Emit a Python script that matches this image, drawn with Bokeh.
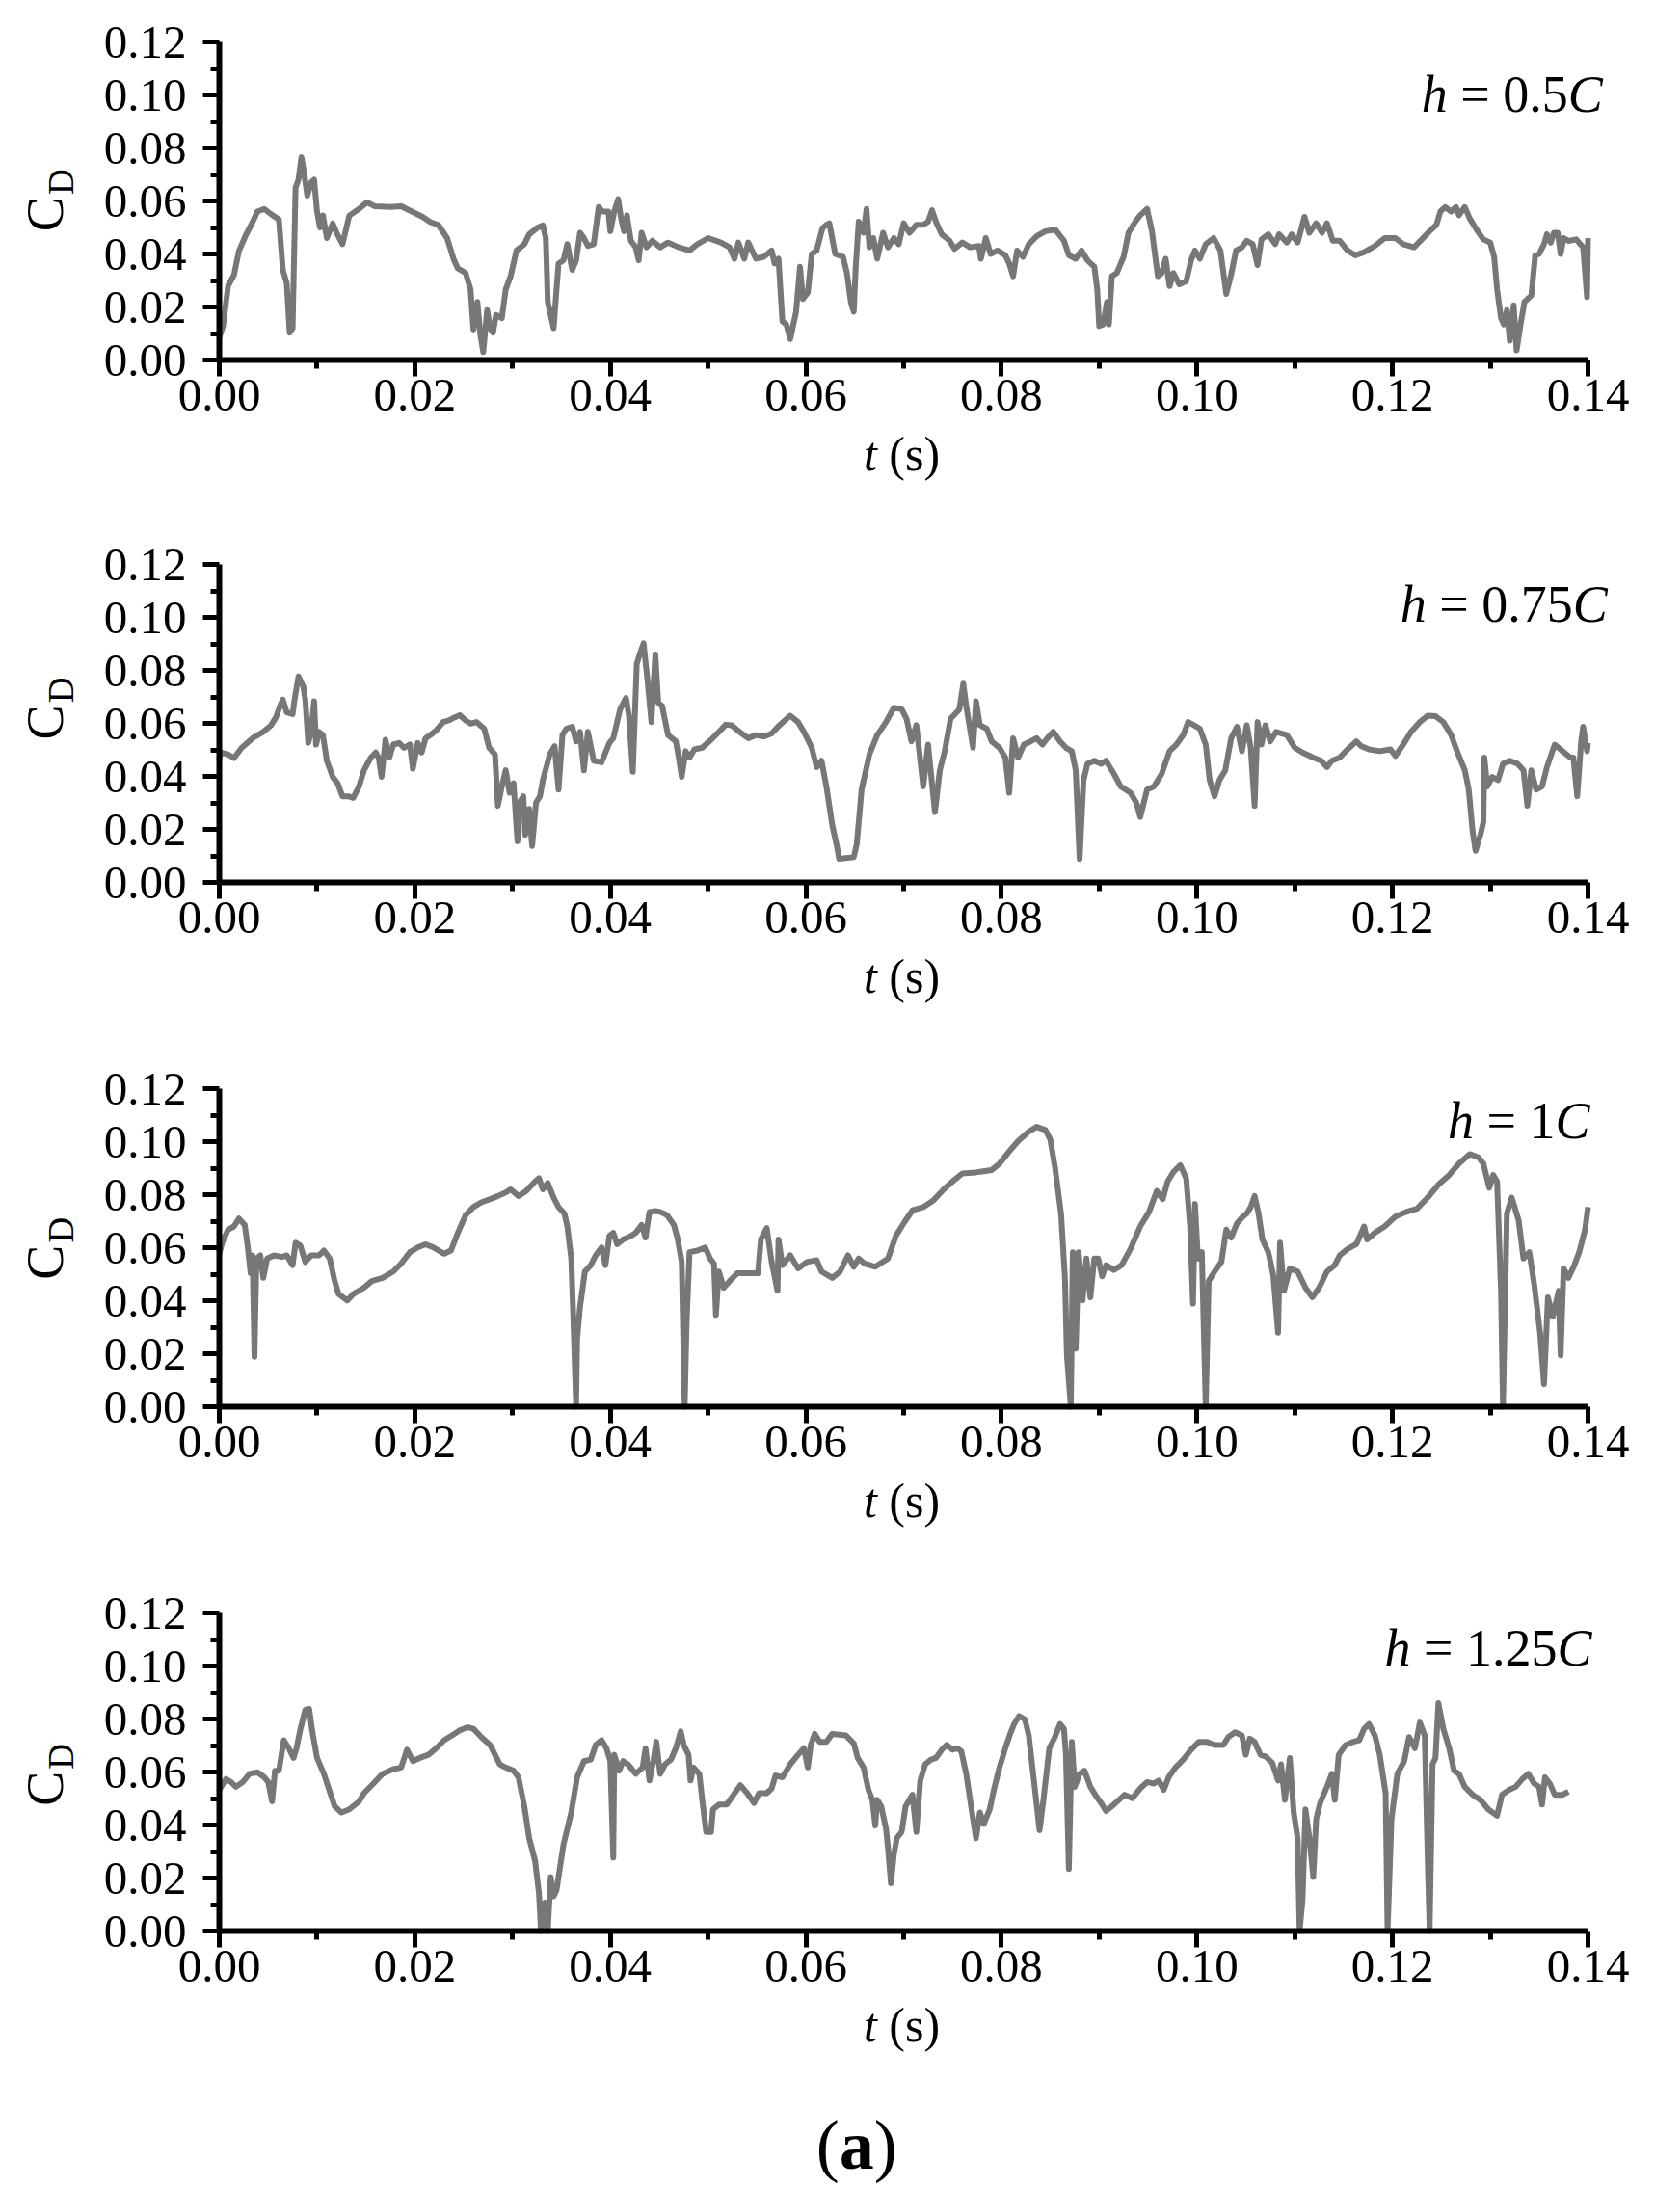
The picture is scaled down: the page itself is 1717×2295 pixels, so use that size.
from bokeh.plotting import figure
from bokeh.layouts import column
from bokeh.models import FixedTicker, PrintfTickFormatter, Label, Range1d
from bokeh.embed import file_html
from bokeh.resources import INLINE
import math

# ---------------- data ----------------
t1 = [0.0, 0.0004, 0.0009, 0.0015, 0.002, 0.0027, 0.0034, 0.0039, 0.0046, 0.0053, 0.0061, 0.0065, 0.0069, 0.0072, 0.0075, 0.0076, 0.0078, 0.0081, 0.0084, 0.0087, 0.009, 0.0094, 0.0097, 0.010, 0.0103, 0.0106, 0.011, 0.0116, 0.012, 0.0126, 0.0133, 0.0143, 0.0151, 0.0159, 0.0175, 0.0186, 0.0197, 0.0208, 0.0216, 0.0224, 0.0233, 0.024, 0.0244, 0.0252, 0.0257, 0.026, 0.0264, 0.0267, 0.027, 0.0274, 0.0277, 0.028, 0.0283, 0.0289, 0.0293, 0.0298, 0.0304, 0.0312, 0.0317, 0.0325, 0.0331, 0.0334, 0.0336, 0.0342, 0.0344, 0.0347, 0.0352, 0.0356, 0.0361, 0.0365, 0.0369, 0.0373, 0.0377, 0.0383, 0.0388, 0.0392, 0.0398, 0.04, 0.0404, 0.0408, 0.0411, 0.0414, 0.0417, 0.0421, 0.0426, 0.0429, 0.0432, 0.0437, 0.0443, 0.0451, 0.0459, 0.047, 0.0481, 0.0489, 0.05, 0.0513, 0.0522, 0.0527, 0.0531, 0.0537, 0.0541, 0.0549, 0.0557, 0.0565, 0.0568, 0.0572, 0.0576, 0.058, 0.0584, 0.059, 0.0594, 0.0597, 0.0602, 0.0606, 0.0611, 0.0617, 0.0621, 0.0624, 0.063, 0.0638, 0.0642, 0.0646, 0.0649, 0.0651, 0.0654, 0.0659, 0.0662, 0.0665, 0.0669, 0.0673, 0.0679, 0.0684, 0.069, 0.0695, 0.07, 0.0706, 0.0713, 0.072, 0.0725, 0.0729, 0.0733, 0.0739, 0.0747, 0.0752, 0.076, 0.0768, 0.0777, 0.0779, 0.0784, 0.0789, 0.0796, 0.0804, 0.0808, 0.0812, 0.0816, 0.0822, 0.0828, 0.0836, 0.0845, 0.0855, 0.0864, 0.0869, 0.0876, 0.0882, 0.0888, 0.0895, 0.0898, 0.09, 0.0904, 0.0908, 0.091, 0.0913, 0.0918, 0.0925, 0.093, 0.0937, 0.0942, 0.0949, 0.0954, 0.096, 0.0964, 0.0968, 0.0972, 0.0976, 0.0982, 0.0989, 0.0994, 0.0998, 0.1003, 0.1009, 0.1017, 0.1024, 0.103, 0.1035, 0.104, 0.1046, 0.1051, 0.1057, 0.1062, 0.1066, 0.1073, 0.108, 0.1084, 0.1092, 0.1097, 0.1103, 0.111, 0.1115, 0.1122, 0.1128, 0.1133, 0.1139, 0.1146, 0.1154, 0.1162, 0.1171, 0.1182, 0.1192, 0.1203, 0.1211, 0.1222, 0.123, 0.1238, 0.1245, 0.1249, 0.1254, 0.126, 0.1265, 0.1268, 0.1274, 0.1279, 0.1286, 0.1293, 0.13, 0.1304, 0.1307, 0.1311, 0.1314, 0.1317, 0.132, 0.1324, 0.1327, 0.1331, 0.1335, 0.1342, 0.1346, 0.135, 0.1355, 0.1358, 0.1362, 0.1365, 0.1369, 0.1372, 0.1375, 0.138, 0.1388, 0.1395, 0.1399, 0.14]
cd1 = [0.0085, 0.013, 0.028, 0.032, 0.041, 0.047, 0.052, 0.056, 0.057, 0.055, 0.053, 0.034, 0.029, 0.0103, 0.012, 0.030, 0.065, 0.068, 0.0765, 0.070, 0.062, 0.067, 0.068, 0.056, 0.050, 0.0545, 0.046, 0.0515, 0.048, 0.0437, 0.0545, 0.057, 0.0595, 0.058, 0.0577, 0.058, 0.056, 0.054, 0.052, 0.051, 0.046, 0.0377, 0.0346, 0.0328, 0.0267, 0.0115, 0.0219, 0.0097, 0.003, 0.0188, 0.012, 0.0103, 0.017, 0.0158, 0.0267, 0.0316, 0.0413, 0.0437, 0.0474, 0.0498, 0.0508, 0.046, 0.0219, 0.012, 0.022, 0.0364, 0.0376, 0.0437, 0.034, 0.0376, 0.048, 0.046, 0.043, 0.0437, 0.0577, 0.056, 0.056, 0.0486, 0.056, 0.0607, 0.0534, 0.0486, 0.0546, 0.045, 0.0425, 0.0376, 0.048, 0.0425, 0.045, 0.0425, 0.0443, 0.0425, 0.0413, 0.0437, 0.046, 0.0443, 0.0425, 0.0382, 0.0443, 0.0382, 0.0443, 0.0382, 0.0389, 0.0413, 0.0364, 0.0382, 0.0146, 0.0134, 0.0079, 0.0182, 0.0352, 0.023, 0.0255, 0.040, 0.0413, 0.0498, 0.051, 0.0516, 0.040, 0.0389, 0.0328, 0.0219, 0.0182, 0.0352, 0.0522, 0.048, 0.057, 0.0425, 0.046, 0.0382, 0.048, 0.0425, 0.046, 0.0437, 0.0516, 0.048, 0.051, 0.051, 0.0522, 0.0565, 0.0522, 0.0474, 0.045, 0.0419, 0.0443, 0.0425, 0.043, 0.0382, 0.046, 0.040, 0.0413, 0.0395, 0.0364, 0.0316, 0.0413, 0.0389, 0.0437, 0.0467, 0.0486, 0.0492, 0.045, 0.0395, 0.0382, 0.0413, 0.0376, 0.0352, 0.0267, 0.0128, 0.0134, 0.0219, 0.0134, 0.0316, 0.0328, 0.0389, 0.048, 0.0522, 0.0546, 0.057, 0.0486, 0.0316, 0.0328, 0.0382, 0.0279, 0.0328, 0.0285, 0.0297, 0.0376, 0.0413, 0.0382, 0.0437, 0.046, 0.0413, 0.0249, 0.0322, 0.0413, 0.0425, 0.045, 0.0437, 0.0358, 0.0455, 0.0474, 0.0437, 0.0474, 0.0443, 0.0474, 0.0443, 0.054, 0.048, 0.0516, 0.048, 0.0516, 0.045, 0.045, 0.0413, 0.0395, 0.0407, 0.043, 0.046, 0.046, 0.0437, 0.0425, 0.0455, 0.0486, 0.051, 0.056, 0.0577, 0.056, 0.0577, 0.0546, 0.0577, 0.0534, 0.0492, 0.0455, 0.0443, 0.0389, 0.0267, 0.0158, 0.0134, 0.0188, 0.0073, 0.0206, 0.0036, 0.0134, 0.0219, 0.0243, 0.0395, 0.040, 0.0437, 0.0474, 0.0443, 0.048, 0.048, 0.040, 0.046, 0.0449, 0.0455, 0.0425, 0.0237, 0.046]

t2 = [0.0, 0.0001, 0.0009, 0.0015, 0.0023, 0.0034, 0.0045, 0.0053, 0.0058, 0.0062, 0.0065, 0.0069, 0.0075, 0.0077, 0.0081, 0.0086, 0.0088, 0.0091, 0.0094, 0.0097, 0.0099, 0.0102, 0.0106, 0.011, 0.0116, 0.0121, 0.0126, 0.0132, 0.0137, 0.0143, 0.0148, 0.0155, 0.016, 0.0163, 0.0166, 0.017, 0.0174, 0.0178, 0.0184, 0.0189, 0.0195, 0.0198, 0.0203, 0.0207, 0.0211, 0.0216, 0.0222, 0.0229, 0.0235, 0.0241, 0.0246, 0.0252, 0.0257, 0.0263, 0.0271, 0.0276, 0.0282, 0.0285, 0.0289, 0.0293, 0.0297, 0.0301, 0.0305, 0.0307, 0.0311, 0.0313, 0.0317, 0.032, 0.0324, 0.0328, 0.0331, 0.0338, 0.0343, 0.0347, 0.0351, 0.0355, 0.0361, 0.0365, 0.0369, 0.0373, 0.0377, 0.0383, 0.0391, 0.0399, 0.0403, 0.041, 0.0416, 0.0419, 0.0423, 0.0427, 0.043, 0.0434, 0.0438, 0.0442, 0.0446, 0.0449, 0.0453, 0.0459, 0.0467, 0.047, 0.0473, 0.0477, 0.0481, 0.0486, 0.0494, 0.0503, 0.0511, 0.0518, 0.0524, 0.0532, 0.0541, 0.0549, 0.0557, 0.0565, 0.0573, 0.0584, 0.0592, 0.0598, 0.0606, 0.0611, 0.0616, 0.0621, 0.0627, 0.0632, 0.0634, 0.0649, 0.0652, 0.0657, 0.0665, 0.0673, 0.0682, 0.069, 0.0698, 0.0703, 0.0708, 0.0713, 0.072, 0.0725, 0.0732, 0.0737, 0.0742, 0.0748, 0.0757, 0.0761, 0.0764, 0.0771, 0.0774, 0.0778, 0.0785, 0.079, 0.0798, 0.0804, 0.0808, 0.0812, 0.0817, 0.0823, 0.083, 0.0836, 0.0842, 0.0847, 0.0853, 0.086, 0.0866, 0.0872, 0.0876, 0.088, 0.0884, 0.0888, 0.0895, 0.0902, 0.0907, 0.0915, 0.0922, 0.0932, 0.0938, 0.0942, 0.0949, 0.0956, 0.0964, 0.0972, 0.0979, 0.0986, 0.0991, 0.0997, 0.1003, 0.1009, 0.1013, 0.1018, 0.1023, 0.1029, 0.1035, 0.1041, 0.1046, 0.1051, 0.1055, 0.1059, 0.1062, 0.1066, 0.107, 0.1075, 0.1081, 0.1092, 0.11, 0.1108, 0.1119, 0.1127, 0.1133, 0.1138, 0.1146, 0.1154, 0.1163, 0.1168, 0.1176, 0.1187, 0.1198, 0.1203, 0.1211, 0.1219, 0.1228, 0.1236, 0.1244, 0.1252, 0.126, 0.1266, 0.1274, 0.1278, 0.1282, 0.1285, 0.129, 0.1293, 0.1294, 0.1297, 0.1302, 0.1308, 0.1313, 0.132, 0.1328, 0.1334, 0.1338, 0.1342, 0.1347, 0.1353, 0.1358, 0.1366, 0.1374, 0.1382, 0.1385, 0.1389, 0.1393, 0.1395, 0.1399, 0.14]
cd2 = [0.0459, 0.049, 0.0483, 0.0469, 0.0508, 0.0544, 0.0568, 0.0593, 0.0623, 0.0665, 0.069, 0.0641, 0.0635, 0.069, 0.0777, 0.0738, 0.069, 0.0526, 0.0568, 0.0684, 0.052, 0.0568, 0.0556, 0.0459, 0.0398, 0.0374, 0.0325, 0.0325, 0.0319, 0.0362, 0.0423, 0.0471, 0.049, 0.0471, 0.0398, 0.0538, 0.0471, 0.052, 0.0526, 0.0508, 0.052, 0.0429, 0.0526, 0.049, 0.0544, 0.0556, 0.0574, 0.0605, 0.0611, 0.0623, 0.0631, 0.0611, 0.0599, 0.0605, 0.058, 0.0508, 0.0483, 0.0289, 0.0362, 0.0423, 0.0338, 0.0374, 0.0155, 0.0301, 0.0325, 0.018, 0.0277, 0.0137, 0.0301, 0.0325, 0.0386, 0.0483, 0.0514, 0.035, 0.0556, 0.058, 0.0587, 0.0532, 0.0568, 0.0423, 0.0568, 0.0459, 0.0453, 0.0526, 0.0544, 0.0653, 0.0696, 0.0629, 0.0417, 0.0823, 0.086, 0.0902, 0.0763, 0.0605, 0.086, 0.0678, 0.0665, 0.0556, 0.0532, 0.0471, 0.0398, 0.0495, 0.0471, 0.0502, 0.0508, 0.0538, 0.0568, 0.0595, 0.0593, 0.0568, 0.0544, 0.0556, 0.055, 0.0562, 0.0593, 0.0629, 0.0605, 0.0568, 0.0508, 0.0435, 0.0459, 0.0362, 0.0216, 0.0131, 0.0089, 0.0095, 0.0143, 0.035, 0.0483, 0.0556, 0.0605, 0.0659, 0.0653, 0.0617, 0.0532, 0.0593, 0.0362, 0.052, 0.0265, 0.0423, 0.0495, 0.0617, 0.0653, 0.075, 0.0665, 0.0508, 0.0684, 0.0593, 0.058, 0.0532, 0.0508, 0.0471, 0.0338, 0.0544, 0.0471, 0.052, 0.0532, 0.0544, 0.052, 0.0544, 0.0568, 0.0532, 0.0508, 0.0495, 0.0423, 0.0089, 0.0386, 0.0447, 0.0459, 0.0447, 0.0459, 0.041, 0.0362, 0.0338, 0.0301, 0.0247, 0.035, 0.0362, 0.041, 0.0495, 0.052, 0.0556, 0.0605, 0.0593, 0.058, 0.052, 0.0386, 0.0325, 0.0386, 0.0423, 0.0544, 0.0587, 0.0495, 0.0593, 0.0508, 0.0289, 0.0605, 0.052, 0.0593, 0.0532, 0.0568, 0.0556, 0.0508, 0.049, 0.0471, 0.0459, 0.0435, 0.0459, 0.0471, 0.0502, 0.0532, 0.0514, 0.0502, 0.0495, 0.0502, 0.0477, 0.052, 0.0568, 0.0605, 0.0629, 0.0627, 0.0605, 0.0556, 0.0495, 0.0423, 0.035, 0.0192, 0.0119, 0.018, 0.0228, 0.0471, 0.0362, 0.0398, 0.0386, 0.0447, 0.0459, 0.0447, 0.0423, 0.0289, 0.0423, 0.035, 0.0362, 0.0435, 0.052, 0.0495, 0.0471, 0.0471, 0.0325, 0.0532, 0.0587, 0.0495, 0.0526]

t3 = [0.0, 0.0003, 0.0009, 0.0015, 0.002, 0.0026, 0.0029, 0.0032, 0.0034, 0.0036, 0.0038, 0.0042, 0.0045, 0.0049, 0.0056, 0.0064, 0.0069, 0.0075, 0.0078, 0.0083, 0.0088, 0.0094, 0.0102, 0.0107, 0.0113, 0.0118, 0.0122, 0.0131, 0.0137, 0.0148, 0.0156, 0.0167, 0.0178, 0.0186, 0.0195, 0.0203, 0.0211, 0.0219, 0.023, 0.0237, 0.0244, 0.0252, 0.026, 0.0268, 0.0277, 0.0285, 0.0293, 0.0298, 0.0306, 0.0314, 0.0323, 0.0327, 0.0331, 0.0336, 0.0342, 0.0347, 0.0353, 0.0356, 0.036, 0.0362, 0.0365, 0.0366, 0.0369, 0.0374, 0.038, 0.0385, 0.0391, 0.0395, 0.0399, 0.0403, 0.0407, 0.0413, 0.0421, 0.0426, 0.0432, 0.0436, 0.044, 0.0446, 0.0451, 0.0458, 0.0465, 0.0469, 0.0473, 0.0476, 0.0478, 0.0481, 0.0489, 0.0497, 0.0502, 0.0506, 0.0508, 0.0511, 0.0516, 0.0522, 0.053, 0.0541, 0.0551, 0.0554, 0.056, 0.0565, 0.0571, 0.0572, 0.0576, 0.0584, 0.0592, 0.0601, 0.0611, 0.0616, 0.0627, 0.0635, 0.0643, 0.0649, 0.0654, 0.066, 0.0671, 0.0684, 0.0692, 0.07, 0.0709, 0.072, 0.073, 0.0741, 0.0752, 0.076, 0.0774, 0.079, 0.0798, 0.0807, 0.0817, 0.0828, 0.0836, 0.0845, 0.085, 0.0855, 0.0861, 0.0865, 0.0867, 0.0871, 0.0873, 0.0876, 0.0879, 0.0883, 0.0887, 0.0891, 0.0895, 0.0899, 0.0903, 0.0907, 0.0915, 0.0923, 0.0932, 0.0942, 0.0951, 0.0959, 0.0965, 0.097, 0.0976, 0.0983, 0.0989, 0.0993, 0.0996, 0.0998, 0.1001, 0.1005, 0.1009, 0.1012, 0.1018, 0.1025, 0.103, 0.1035, 0.1041, 0.1047, 0.1051, 0.1055, 0.1059, 0.1063, 0.1067, 0.1073, 0.1078, 0.1083, 0.1085, 0.1089, 0.1095, 0.1103, 0.1111, 0.1118, 0.1125, 0.1133, 0.1141, 0.1146, 0.1154, 0.1163, 0.1171, 0.1174, 0.1182, 0.1192, 0.1203, 0.1214, 0.1225, 0.1236, 0.1247, 0.1258, 0.1268, 0.1279, 0.1288, 0.1293, 0.1299, 0.1303, 0.1307, 0.1311, 0.1313, 0.1317, 0.1322, 0.1329, 0.1334, 0.134, 0.1345, 0.1351, 0.1355, 0.1359, 0.1364, 0.137, 0.1372, 0.1375, 0.138, 0.1386, 0.1391, 0.1397, 0.14]
cd3 = [0.0577, 0.0619, 0.0668, 0.068, 0.071, 0.0686, 0.0607, 0.0504, 0.0571, 0.0188, 0.0559, 0.0571, 0.0486, 0.0559, 0.0571, 0.0565, 0.0571, 0.0534, 0.0619, 0.0607, 0.0546, 0.0571, 0.0571, 0.0589, 0.0559, 0.0474, 0.0425, 0.0401, 0.0425, 0.0449, 0.0474, 0.0486, 0.051, 0.054, 0.0583, 0.0601, 0.0613, 0.0601, 0.0577, 0.0589, 0.0656, 0.0723, 0.0753, 0.0771, 0.0783, 0.0795, 0.0808, 0.082, 0.0795, 0.0814, 0.085, 0.0862, 0.082, 0.0844, 0.0789, 0.0753, 0.0729, 0.068, 0.0559, 0.0352, 0.0, 0.0255, 0.0376, 0.051, 0.0534, 0.0571, 0.0601, 0.0534, 0.0644, 0.0656, 0.0613, 0.0631, 0.0644, 0.0656, 0.0686, 0.0638, 0.0735, 0.0738, 0.0735, 0.0723, 0.0686, 0.0631, 0.0546, 0.0, 0.0316, 0.0583, 0.0589, 0.0601, 0.0559, 0.054, 0.0346, 0.051, 0.0449, 0.0474, 0.0504, 0.0504, 0.0504, 0.0631, 0.0674, 0.0546, 0.0437, 0.0631, 0.0534, 0.0571, 0.0522, 0.0546, 0.0553, 0.051, 0.0486, 0.051, 0.0571, 0.0528, 0.0559, 0.054, 0.0528, 0.0559, 0.0644, 0.0692, 0.0741, 0.0753, 0.0777, 0.082, 0.0856, 0.088, 0.0884, 0.0893, 0.0917, 0.0959, 0.1002, 0.1038, 0.1056, 0.1044, 0.1008, 0.0899, 0.0729, 0.0486, 0.0194, 0.0, 0.0583, 0.0219, 0.0583, 0.0401, 0.0559, 0.0413, 0.0559, 0.0559, 0.0492, 0.0534, 0.0516, 0.0534, 0.0595, 0.068, 0.0735, 0.0814, 0.0783, 0.085, 0.0886, 0.0911, 0.0862, 0.068, 0.0389, 0.0765, 0.0559, 0.0583, 0.0, 0.0474, 0.051, 0.0546, 0.0668, 0.0638, 0.0692, 0.0717, 0.0729, 0.0753, 0.0795, 0.0729, 0.0631, 0.0583, 0.0498, 0.0279, 0.0619, 0.0437, 0.0522, 0.051, 0.0449, 0.0413, 0.0449, 0.051, 0.0534, 0.0571, 0.0595, 0.0613, 0.068, 0.0631, 0.0656, 0.068, 0.0717, 0.0735, 0.0747, 0.0789, 0.0838, 0.0874, 0.0917, 0.0953, 0.0941, 0.0917, 0.0826, 0.0874, 0.085, 0.0437, 0.0, 0.0729, 0.0789, 0.0704, 0.0559, 0.0583, 0.0461, 0.0279, 0.0085, 0.0413, 0.034, 0.0437, 0.0194, 0.0522, 0.0486, 0.0534, 0.0583, 0.0668, 0.0753]

t4 = [0.0, 0.0007, 0.0012, 0.0017, 0.0024, 0.0031, 0.0039, 0.0046, 0.005, 0.0054, 0.0057, 0.0061, 0.0066, 0.0071, 0.0076, 0.0079, 0.0083, 0.0088, 0.0092, 0.0095, 0.01, 0.0107, 0.0113, 0.0118, 0.0125, 0.0133, 0.0143, 0.0148, 0.0156, 0.0167, 0.0178, 0.0186, 0.0192, 0.0198, 0.0205, 0.0214, 0.0222, 0.023, 0.0238, 0.0246, 0.0254, 0.026, 0.0268, 0.0277, 0.0282, 0.0287, 0.0293, 0.0301, 0.0306, 0.0312, 0.0317, 0.0323, 0.0327, 0.0329, 0.0333, 0.0336, 0.0339, 0.0342, 0.0345, 0.0352, 0.036, 0.0366, 0.0373, 0.038, 0.0385, 0.0391, 0.0396, 0.04, 0.0403, 0.0404, 0.0409, 0.0413, 0.0418, 0.0426, 0.0433, 0.0436, 0.044, 0.0444, 0.0447, 0.0451, 0.0456, 0.0462, 0.0467, 0.0472, 0.0475, 0.048, 0.0482, 0.0485, 0.0491, 0.0494, 0.0498, 0.0503, 0.0505, 0.0511, 0.0519, 0.0526, 0.0533, 0.054, 0.0547, 0.0552, 0.056, 0.0565, 0.0569, 0.0576, 0.0584, 0.0592, 0.0598, 0.0602, 0.0605, 0.0609, 0.0614, 0.0621, 0.0627, 0.0641, 0.0649, 0.0653, 0.0659, 0.0664, 0.0668, 0.0671, 0.0673, 0.0677, 0.0682, 0.0684, 0.0687, 0.069, 0.0693, 0.0698, 0.0702, 0.0709, 0.0713, 0.0717, 0.0722, 0.0728, 0.0733, 0.0739, 0.0744, 0.075, 0.0755, 0.0759, 0.0764, 0.0768, 0.0774, 0.0778, 0.0782, 0.0788, 0.0793, 0.0798, 0.0804, 0.0809, 0.0813, 0.0818, 0.0824, 0.0828, 0.0834, 0.0839, 0.0843, 0.0849, 0.0854, 0.086, 0.0864, 0.0866, 0.0869, 0.0872, 0.0875, 0.088, 0.0885, 0.0891, 0.0896, 0.0902, 0.0907, 0.0915, 0.0926, 0.0934, 0.0942, 0.0949, 0.0956, 0.0961, 0.0966, 0.0971, 0.0978, 0.0986, 0.0994, 0.1002, 0.101, 0.1018, 0.1027, 0.1032, 0.1039, 0.1046, 0.105, 0.1054, 0.1059, 0.1065, 0.107, 0.1077, 0.1083, 0.1086, 0.109, 0.1095, 0.1099, 0.1103, 0.1105, 0.1108, 0.1111, 0.1115, 0.1119, 0.1122, 0.1126, 0.1133, 0.1138, 0.1141, 0.1145, 0.1152, 0.116, 0.1166, 0.1171, 0.1176, 0.1182, 0.1187, 0.1193, 0.1195, 0.1199, 0.1205, 0.1212, 0.1217, 0.1223, 0.1228, 0.1233, 0.1236, 0.1238, 0.1241, 0.1244, 0.1247, 0.1252, 0.1258, 0.1263, 0.1268, 0.1274, 0.1282, 0.129, 0.1298, 0.1307, 0.1312, 0.1319, 0.1326, 0.1333, 0.1339, 0.1345, 0.135, 0.1353, 0.1356, 0.1361, 0.1366, 0.1374, 0.138]
cd4 = [0.0532, 0.0574, 0.0562, 0.0544, 0.0562, 0.0593, 0.0599, 0.058, 0.0562, 0.0489, 0.0605, 0.0605, 0.072, 0.069, 0.0653, 0.069, 0.0763, 0.0835, 0.0838, 0.0757, 0.0653, 0.0593, 0.0526, 0.0471, 0.0447, 0.0459, 0.0489, 0.052, 0.055, 0.0593, 0.0611, 0.0617, 0.0684, 0.0641, 0.0653, 0.0665, 0.069, 0.072, 0.0738, 0.0757, 0.0769, 0.0763, 0.0732, 0.0702, 0.0665, 0.0629, 0.0617, 0.0605, 0.058, 0.0471, 0.035, 0.0265, 0.0143, 0.0, 0.0107, 0.0, 0.0204, 0.0131, 0.0155, 0.0325, 0.0447, 0.058, 0.0641, 0.0647, 0.0702, 0.072, 0.069, 0.0641, 0.0277, 0.0665, 0.0605, 0.0641, 0.0629, 0.0593, 0.0617, 0.069, 0.0568, 0.0641, 0.0714, 0.0593, 0.0629, 0.0647, 0.069, 0.0753, 0.0702, 0.0665, 0.0568, 0.0617, 0.0593, 0.0495, 0.0374, 0.0374, 0.0459, 0.0477, 0.0477, 0.0514, 0.055, 0.052, 0.0483, 0.052, 0.052, 0.0538, 0.0587, 0.058, 0.0629, 0.0665, 0.069, 0.0617, 0.0702, 0.0744, 0.0714, 0.0714, 0.0744, 0.0738, 0.0708, 0.0653, 0.0617, 0.0532, 0.0495, 0.0398, 0.0495, 0.0471, 0.0386, 0.0313, 0.018, 0.0289, 0.035, 0.0374, 0.0471, 0.0514, 0.0374, 0.0568, 0.0629, 0.0647, 0.0653, 0.0684, 0.0702, 0.0684, 0.069, 0.0678, 0.0593, 0.0495, 0.035, 0.0447, 0.0404, 0.0459, 0.0544, 0.0617, 0.069, 0.0744, 0.0781, 0.0811, 0.0799, 0.0738, 0.0544, 0.038, 0.0495, 0.069, 0.0726, 0.0781, 0.0763, 0.0665, 0.0234, 0.0714, 0.0544, 0.0593, 0.0605, 0.0544, 0.0514, 0.0483, 0.0453, 0.0477, 0.0514, 0.0501, 0.0538, 0.0562, 0.0556, 0.0568, 0.0532, 0.058, 0.0617, 0.0647, 0.0684, 0.0714, 0.0714, 0.0702, 0.0702, 0.0732, 0.075, 0.0738, 0.0665, 0.0726, 0.0714, 0.0665, 0.0659, 0.0635, 0.0568, 0.0629, 0.0495, 0.0653, 0.0447, 0.035, 0.0, 0.0119, 0.0459, 0.035, 0.0204, 0.0423, 0.0483, 0.0544, 0.0593, 0.0495, 0.0665, 0.0702, 0.0714, 0.072, 0.0763, 0.0781, 0.0738, 0.0665, 0.052, 0.0, 0.0423, 0.0593, 0.0641, 0.0732, 0.069, 0.0787, 0.0738, 0.0277, 0.0, 0.0629, 0.0653, 0.086, 0.0763, 0.069, 0.0605, 0.0593, 0.0544, 0.0514, 0.0495, 0.0459, 0.0435, 0.0514, 0.0532, 0.0544, 0.0574, 0.0593, 0.0556, 0.0544, 0.0477, 0.058, 0.0556, 0.0514, 0.0514, 0.0526]

series_t = [t1, t2, t3, t4]
series_cd = [cd1, cd2, cd3, cd4]
h_values = ["0.5", "0.75", "1", "1.25"]

y_major = [0.00, 0.02, 0.04, 0.06, 0.08, 0.10, 0.12]
y_minor = [0.01, 0.03, 0.05, 0.07, 0.09, 0.11]
x_major = [0.00, 0.02, 0.04, 0.06, 0.08, 0.10, 0.12, 0.14]
x_minor = [0.01, 0.03, 0.05, 0.07, 0.09, 0.11, 0.13]

X0, X1 = 0.0, 0.14
Y0, Y1 = 0.0, 0.12

# ---------------- styling / layout ----------------
SERIF = "Liberation Serif"
LINE_COLOR = "#777777"
NBSP = "\u00a0"
FIG_W = 1700
PLOT_LEFT = 227      # px from figure left to t = 0
PLOT_W = 1420        # px for 0 .. 0.14
PLOT_H = 330         # px for 0 .. 0.12
fig_heights = [544, 544, 544, 645]
plot_tops = [43, 41, 41, 41]
ann_pos = [(0.1415, 0.1002), (0.1420, 0.1048), (0.1402, 0.1080), (0.1404, 0.1066)]
cd_label_y = [0.0550, 0.0604, 0.0545, 0.0537]
ANN_FS = 54
TICK_FS = 49


def make_panel(i):
    H = fig_heights[i]
    top = plot_tops[i]
    sx = (X1 - X0) / PLOT_W
    sy = (Y1 - Y0) / PLOT_H
    xr = Range1d(X0 - PLOT_LEFT * sx, X1 + (FIG_W - PLOT_LEFT - PLOT_W) * sx)
    yr = Range1d(Y0 - (H - top - PLOT_H) * sy, Y1 + top * sy)
    p = figure(width=FIG_W, height=H, x_range=xr, y_range=yr,
               toolbar_location=None, output_backend="svg",
               min_border_left=0, min_border_right=0, min_border_top=0, min_border_bottom=0)
    p.grid.visible = False
    p.outline_line_color = None
    p.background_fill_color = "white"
    p.border_fill_color = "white"

    p.line(series_t[i], series_cd[i], line_color=LINE_COLOR, line_width=6,
           line_join="round")

    p.xaxis.fixed_location = Y0
    p.yaxis.fixed_location = X0
    p.xaxis.bounds = (X0, X1)
    p.yaxis.bounds = (Y0, Y1)
    for ax, maj, mino in ((p.xaxis[0], x_major, x_minor), (p.yaxis[0], y_major, y_minor)):
        ax.ticker = FixedTicker(ticks=maj, minor_ticks=mino)
        ax.formatter = PrintfTickFormatter(format="%.2f")
        ax.axis_line_width = 6
        ax.axis_line_color = "black"
        ax.major_tick_line_width = 5
        ax.minor_tick_line_width = 5
        ax.major_tick_in = 0
        ax.major_tick_out = 17
        ax.minor_tick_in = 0
        ax.minor_tick_out = 9
        ax.major_label_text_font = SERIF
        ax.major_label_text_font_size = f"{TICK_FS}px"
        ax.major_label_text_color = "black"
    p.xaxis[0].major_label_standoff = 3
    p.yaxis[0].major_label_standoff = 17

    # y label C_D
    yc = cd_label_y[i]
    p.add_layout(Label(x=X0, y=yc, x_offset=-181, text="C", angle=math.pi / 2,
                       text_font=SERIF, text_font_size="54px", text_align="center",
                       text_baseline="middle", text_color="black"))
    p.add_layout(Label(x=X0, y=yc + 0.0122, x_offset=-164, text="D", angle=math.pi / 2,
                       text_font=SERIF, text_font_size="37px", text_align="center",
                       text_baseline="middle", text_color="black"))

    # x label  t (s)
    xl_fs = 50
    t_w = 0.278 * xl_fs
    rest_w = 1.305 * xl_fs
    left = -(t_w + rest_w) / 2
    xc = (X0 + X1) / 2 - 0.0002
    p.add_layout(Label(x=xc, y=Y0, x_offset=left, y_offset=-97, text="t",
                       text_font=SERIF, text_font_style="italic", text_font_size=f"{xl_fs}px",
                       text_align="left", text_baseline="alphabetic", text_color="black"))
    p.add_layout(Label(x=xc, y=Y0, x_offset=left + t_w, y_offset=-97, text=NBSP + "(s)",
                       text_font=SERIF, text_font_size=f"{xl_fs}px",
                       text_align="left", text_baseline="alphabetic", text_color="black"))

    # annotation h = ...C
    ax_, ay_ = ann_pos[i]
    mid = NBSP + "=" + NBSP + h_values[i]
    c_w = 0.667 * ANN_FS
    mid_w = (0.25 + 0.564 + 0.25 + sum(0.25 if ch == "." else 0.5 for ch in h_values[i])) * ANN_FS
    p.add_layout(Label(x=ax_, y=ay_, text="C", text_font=SERIF, text_font_style="italic",
                       text_font_size=f"{ANN_FS}px", text_align="right",
                       text_baseline="alphabetic", text_color="black"))
    p.add_layout(Label(x=ax_, y=ay_, x_offset=-c_w, text=mid, text_font=SERIF,
                       text_font_size=f"{ANN_FS}px", text_align="right",
                       text_baseline="alphabetic", text_color="black"))
    p.add_layout(Label(x=ax_, y=ay_, x_offset=-(c_w + mid_w), text="h", text_font=SERIF,
                       text_font_style="italic", text_font_size=f"{ANN_FS}px",
                       text_align="right", text_baseline="alphabetic", text_color="black"))
    return p


panels = [make_panel(i) for i in range(4)]

# "(a)" caption under the last panel
last = panels[3]
cap_fs = 72
a_w = 0.5 * cap_fs
cap_x = 0.0652
last.add_layout(Label(x=cap_x, y=Y0, y_offset=-222, text="a", text_font=SERIF,
                      text_font_style="bold", text_font_size=f"{cap_fs}px",
                      text_align="center", text_baseline="middle", text_color="black"))
last.add_layout(Label(x=cap_x, y=Y0, x_offset=-a_w / 2, y_offset=-222, text="(", text_font=SERIF,
                      text_font_size=f"{cap_fs}px", text_align="right",
                      text_baseline="middle", text_color="black"))
last.add_layout(Label(x=cap_x, y=Y0, x_offset=a_w / 2, y_offset=-222, text=")", text_font=SERIF,
                      text_font_size=f"{cap_fs}px", text_align="left",
                      text_baseline="middle", text_color="black"))

layout = column(*panels, spacing=0)
open("out.html", "w").write(file_html(layout, INLINE))
